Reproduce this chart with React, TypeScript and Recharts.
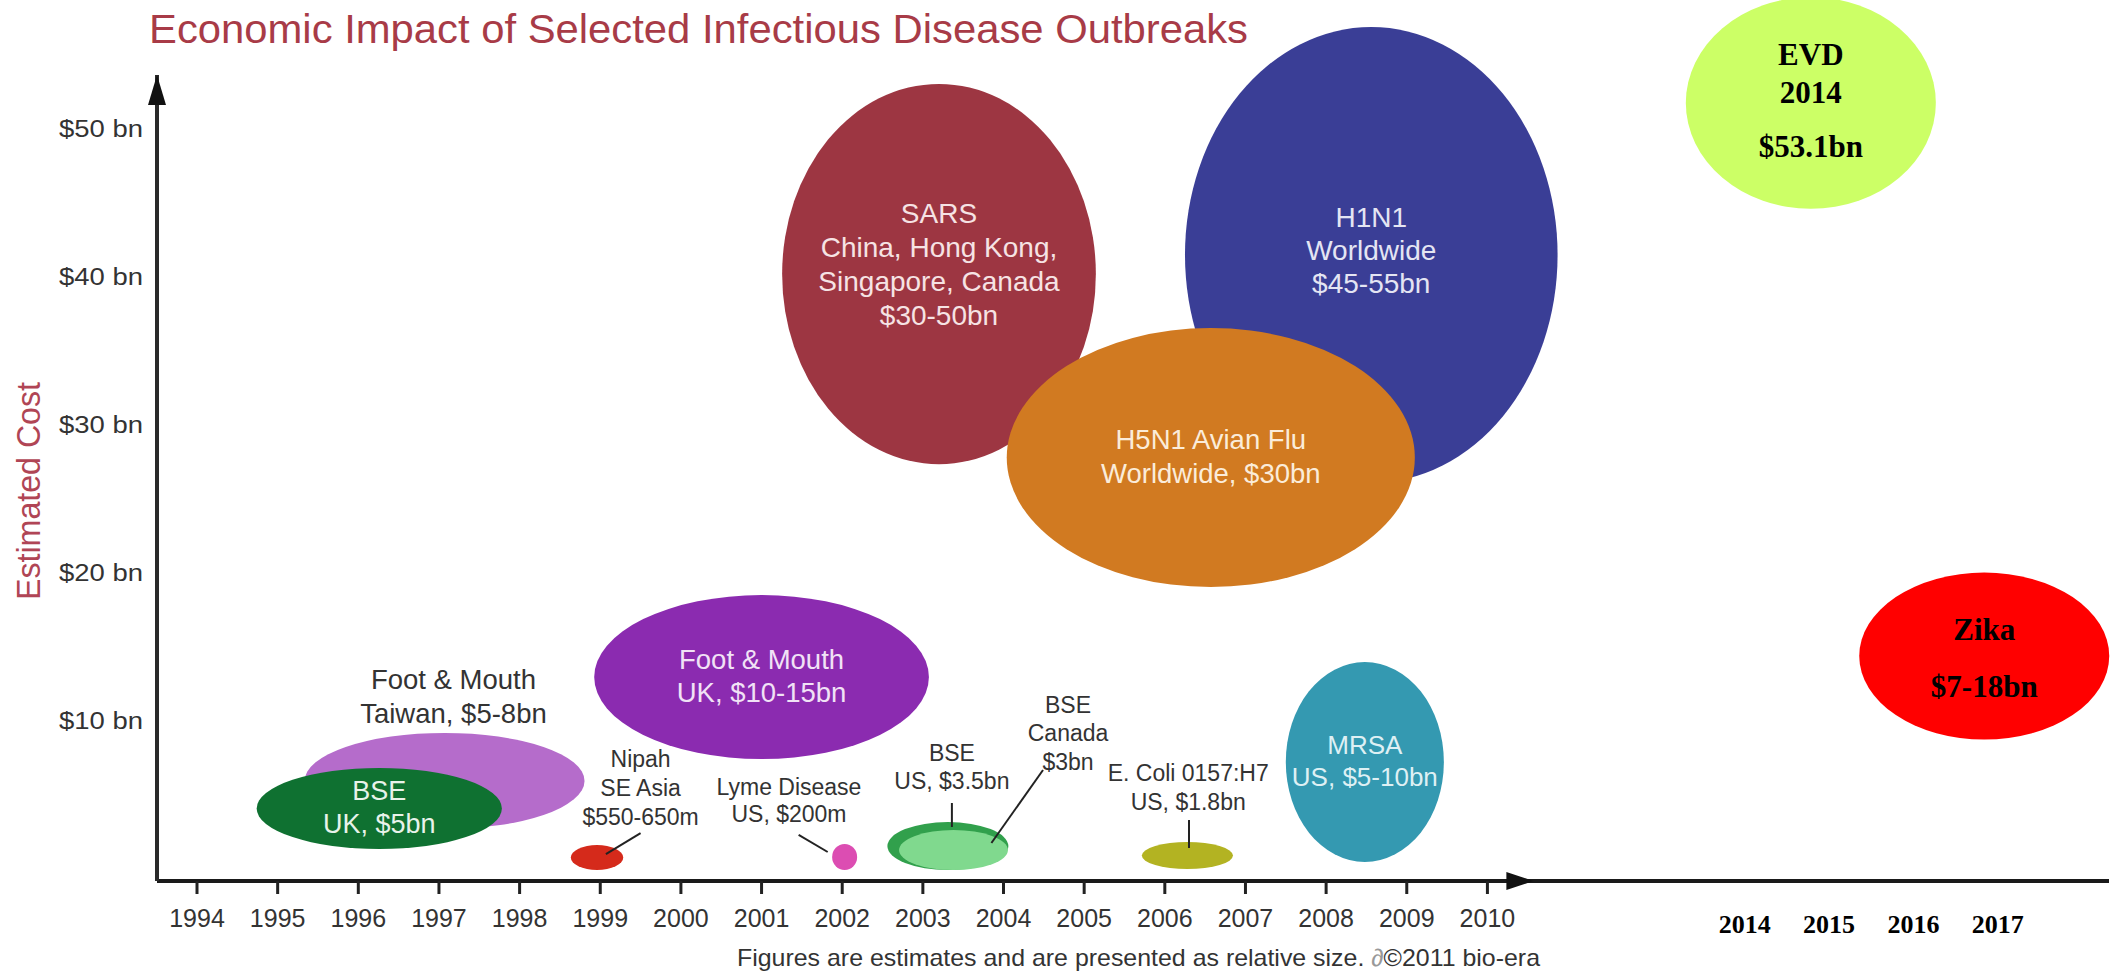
import React from 'react'
import {
  ScatterChart, Scatter, XAxis, YAxis,
  ReferenceArea, ReferenceLine, ReferenceDot,
} from 'recharts'

// bubbles, listed back to front (later ones are painted on top)
const outbreaks = [
  'Foot & Mouth Taiwan', 'BSE UK', 'Nipah', 'Lyme Disease', 'Foot & Mouth UK',
  'SARS', 'H1N1', 'H5N1 Avian Flu', 'BSE US', 'BSE Canada',
  'E. Coli 0157:H7', 'MRSA', 'EVD', 'Zika',
]
// centre of each bubble (year, $bn)
const outbreakYear = [1997.07, 1996.26, 1998.96, 2002.03, 2001.0, 2003.2, 2008.56, 2006.57, 2003.31, 2003.38, 2006.28, 2008.48, 2014.01, 2016.16]
const costBn = [5.95, 4.09, 0.78, 0.81, 12.97, 40.2, 41.49, 27.8, 1.55, 1.28, 0.91, 7.23, 51.76, 14.39]
// "relative size": extent of each bubble in years across and $bn tall
const spanYears = [3.47, 3.04, 0.65, 0.31, 4.15, 3.89, 4.62, 5.06, 1.5, 1.35, 1.13, 1.96, 3.1, 3.1]
const spanBn = [6.49, 5.47, 1.69, 1.76, 11.08, 25.7, 30.8, 17.5, 3.24, 2.7, 1.82, 13.5, 14.3, 11.28]
const bubbleText = [
  [], ['BSE', 'UK, $5bn'], [], [], ['Foot & Mouth', 'UK, $10-15bn'],
  ['SARS', 'China, Hong Kong,', 'Singapore, Canada', '$30-50bn'],
  ['H1N1', 'Worldwide', '$45-55bn'], ['H5N1 Avian Flu', 'Worldwide, $30bn'],
  [], [], [], ['MRSA', 'US, $5-10bn'], ['EVD', '2014', '$53.1bn'], ['Zika', '$7-18bn'],
]

// labels that sit outside their bubble
const calloutText = [
  ['Foot & Mouth', 'Taiwan, $5-8bn'],
  ['Nipah', 'SE Asia', '$550-650m'],
  ['Lyme Disease', 'US, $200m'],
  ['BSE', 'US, $3.5bn'],
  ['BSE', 'Canada', '$3bn'],
  ['E. Coli 0157:H7', 'US, $1.8bn'],
]
const calloutYear = [1997.18, 1999.5, 2001.34, 2003.36, 2004.8, 2006.29]
const calloutBn = [11.69, 5.47, 4.63, 6.89, 9.16, 5.51]
const leaderFrom = [null, [1999.5, 2.43], [2001.46, 2.3], [2003.36, 4.46], [2004.49, 6.69], [2006.3, 3.31]]
const leaderTo = [null, [1999.07, 1.01], [2001.82, 1.15], [2003.36, 2.84], [2003.85, 1.76], [2006.3, 1.42]]

// axes
const yearTicks = [1994, 1995, 1996, 1997, 1998, 1999, 2000, 2001, 2002, 2003, 2004, 2005, 2006, 2007, 2008, 2009, 2010]
const lateYearTicks = [2014, 2015, 2016, 2017]
const costTicks = [10, 20, 30, 40, 50]
const xDomain = [1993.504, 2017.707]
const lateDomain = [1995.165, 2018.32]
const yDomain = [-0.81, 53.65]
const xArrowAt = 2010.57

const SANS = '"Liberation Sans", Arial, Helvetica, sans-serif'
const SERIF = '"Liberation Serif", "Times New Roman", serif'

const bubbleFill = ['#b56ccb', '#0f7131', '#d52a1b', '#dc4db2', '#8b2bb0', '#9d3642', '#3a3e96', '#d17a21', '#31a04c', '#80d98e', '#b3b322', '#3499b1', '#ccff66', '#ff0000']
type Ink = { color: string, size: number, lh: number, dy: number, serif?: boolean, offsets?: number[] }
const bubbleInk: (Ink | null)[] = [
  null,
  { color: '#e8f3ea', size: 27, lh: 33, dy: -1 },
  null, null,
  { color: '#f1e2f6', size: 27.5, lh: 33, dy: -1.5 },
  { color: '#f6e3e4', size: 28, lh: 34, dy: -10 },
  { color: '#e4e5f3', size: 28, lh: 33, dy: -5 },
  { color: '#fbecd9', size: 27.5, lh: 34, dy: -1.5 },
  null, null, null,
  { color: '#def0f4', size: 26, lh: 32, dy: -1 },
  { color: '#000', size: 31, lh: 38, dy: 0, serif: true, offsets: [-49, -11, 43] },
  { color: '#000', size: 31, lh: 38, dy: 0, serif: true, offsets: [-27, 30] },
]
const calloutSize = [27.5, 23, 23, 23, 23, 23]
const calloutLh = [34, 29, 27, 28, 28.5, 29]

const textLines = (lines: string[], cx: number, cy: number, ink: Ink) =>
  lines.map((t, k) => {
    const off = ink.offsets ? ink.offsets[k] : (k - (lines.length - 1) / 2) * ink.lh + ink.dy
    return (
      <text key={k} x={cx} y={cy + off} dy="0.35em" textAnchor="middle" fill={ink.color}
        fontSize={ink.size} fontFamily={ink.serif ? SERIF : SANS} fontWeight={ink.serif ? 700 : 400}>
        {t}
      </text>
    )
  })

const bubbleShape = (i: number) => (p: any) => {
  const w = Math.abs(p.width), h = Math.abs(p.height)
  const cx = Math.min(p.x, p.x + p.width) + w / 2
  const cy = Math.min(p.y, p.y + p.height) + h / 2
  const ink = bubbleInk[i]
  return (
    <g>
      <ellipse cx={cx} cy={cy} rx={w / 2} ry={h / 2} fill={bubbleFill[i]} />
      {ink && textLines(bubbleText[i], cx, cy, ink)}
    </g>
  )
}

const Callout = (p: any) => {
  const i = p.payload.idx
  return <g>{textLines(calloutText[i], p.cx, p.cy, { color: '#333', size: calloutSize[i], lh: calloutLh[i], dy: 0 })}</g>
}

const CostTick = (p: any) => (
  <text x={p.x - 84} y={p.y} dy="0.35em" fill="#333" fontSize={23.5} fontFamily={SANS}
    textLength={84} lengthAdjust="spacingAndGlyphs">
    {`$${p.payload.value} bn`}
  </text>
)

const callouts = calloutYear.map((x, idx) => ({ x, y: calloutBn[idx], idx }))
// the later years sit on their own axis; these points carry nothing visible
const lateMarks = lateYearTicks.map((x) => ({ x, y: 0 }))

export default function App() {
  return (
    <div style={{ position: 'absolute', left: 0, top: 0, width: 2118, height: 973, background: '#fff' }}>
      <ScatterChart width={2118} height={973} margin={{ top: 75, right: 9, bottom: 90, left: 0 }}>
        <XAxis dataKey="x" type="number" domain={xDomain} ticks={yearTicks} interval={0} height={1}
          axisLine={{ stroke: '#1a1a1a', strokeWidth: 4 }} tickLine={{ stroke: '#222', strokeWidth: 3 }}
          tickSize={13} tickMargin={15}
          tick={{ fill: '#333', fontSize: 25, fontFamily: SANS }} />
        <XAxis xAxisId="late" dataKey="x" type="number" domain={lateDomain} allowDataOverflow
          ticks={lateYearTicks} interval={0} height={1}
          axisLine={false} tickLine={false} tickSize={0} tickMargin={33}
          tick={{ fill: '#000', fontSize: 26, fontFamily: SERIF, fontWeight: 700 }} />
        <YAxis dataKey="y" type="number" domain={yDomain} ticks={costTicks} interval={0} width={157}
          axisLine={{ stroke: '#2a2a2a', strokeWidth: 4 }} tickLine={false} tickSize={6} tickMargin={8}
          tick={(p: any) => <CostTick {...p} />} />

        {outbreaks.map((name, i) => (
          <ReferenceArea key={name} ifOverflow="visible"
            x1={outbreakYear[i] - spanYears[i] / 2} x2={outbreakYear[i] + spanYears[i] / 2}
            y1={costBn[i] - spanBn[i] / 2} y2={costBn[i] + spanBn[i] / 2}
            shape={bubbleShape(i)} />
        ))}

        {leaderFrom.map((a, i) => a && (
          <ReferenceLine key={`lead-${i}`} ifOverflow="visible" stroke="#222" strokeWidth={2}
            segment={[{ x: a[0], y: a[1] }, { x: leaderTo[i]![0], y: leaderTo[i]![1] }]} />
        ))}

        <Scatter data={callouts} isAnimationActive={false} shape={(p: any) => <Callout {...p} />} />
        <Scatter data={lateMarks} xAxisId="late" isAnimationActive={false} shape={() => <g />} />

        <ReferenceDot x={xDomain[0]} y={yDomain[1]} ifOverflow="visible"
          shape={(p: any) => <path d={`M${p.cx},${p.cy} L${p.cx + 9},${p.cy + 30} L${p.cx - 9},${p.cy + 30} Z`} fill="#111" />} />
        <ReferenceDot x={xArrowAt} y={yDomain[0]} ifOverflow="visible"
          shape={(p: any) => <path d={`M${p.cx},${p.cy} L${p.cx - 27},${p.cy - 9} L${p.cx - 27},${p.cy + 9} Z`} fill="#111" />} />
      </ScatterChart>

      <svg width={2118} height={973} style={{ position: 'absolute', left: 0, top: 0, pointerEvents: 'none' }}>
        <text x={149} y={43} fontSize={41} fill="#a83b47" fontFamily={SANS}
          textLength={1099} lengthAdjust="spacingAndGlyphs">
          Economic Impact of Selected Infectious Disease Outbreaks
        </text>
        <text transform="translate(40,491) rotate(-90)" textAnchor="middle" fontSize={33} fill="#b04555"
          fontFamily={SANS} textLength={218} lengthAdjust="spacingAndGlyphs">
          Estimated Cost
        </text>
        <text x={737} y={966} fontSize={24} fill="#333" fontFamily={SANS}
          textLength={803} lengthAdjust="spacingAndGlyphs">
          Figures are estimates and are presented as relative size. <tspan fill="#999">∂</tspan>©2011 bio-era
        </text>
      </svg>
    </div>
  )
}
